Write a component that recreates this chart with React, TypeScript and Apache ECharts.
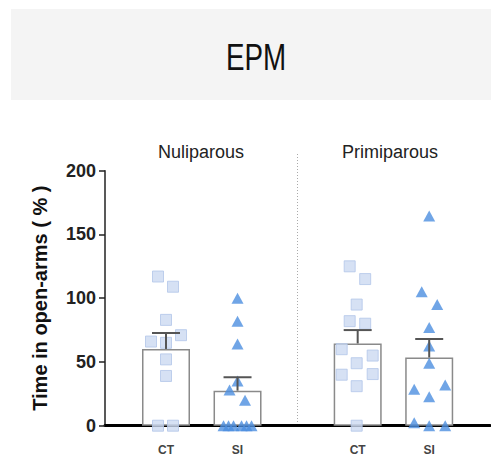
import React, { useEffect, useRef } from "react";
import * as echarts from "echarts";

// ---- data ----
const groups = ["Nuliparous", "Primiparous"];
const categories = ["CT", "SI", "CT", "SI"];
const means = [60.2, 27.5, 64.5, 53.5];
const sems = [12.5, 10.5, 10.5, 14.5];
const yTicks = [0, 50, 100, 150, 200];
// points: [horizontal jitter (px), value]
const nuliCT = [[-8, 117], [7, 109], [0, 83], [15, 71], [-15, 66], [0, 65], [0, 52], [0, 39], [-8, 0], [7, 0]];
const nuliSI = [[0, 100], [0, 82], [0, 64], [0, 35], [-8, 28], [7.5, 20], [-14, 0], [-9, 0], [-4, 0], [4, 0], [9, 0], [14, 0]];
const primiCT = [[-8, 125], [7.5, 115], [-1, 95], [-8, 82], [7.5, 80], [-16, 60], [15, 55], [-1, 49], [-16, 40], [15, 40.5], [-1, 31], [-1, 0]];
const primiSI = [[0, 164.5], [-7.5, 105], [8, 95], [0, 77], [0, 62.5], [0, 49], [-15, 28.5], [16, 32], [0, 22.7], [-15, 2.4], [0, 0], [16, 0]];

// ---- layout ----
const positions = [1, 2, 3.68, 4.68];
const X_MIN = 0.147;
const X_MAX = 5.53;
const GRID_LEFT = 105;
const GRID_RIGHT = 1;
const PX_PER_UNIT = (491 - GRID_LEFT - GRID_RIGHT) / (X_MAX - X_MIN);

export default function App() {
  const ref = useRef<HTMLDivElement>(null);
  useEffect(() => {
    if (!ref.current) return;
    const chart = echarts.init(ref.current, null, { renderer: "svg" });
    const toPts = (arr: number[][], pos: number) => arr.map(([j, v]) => [pos + j / PX_PER_UNIT, v]);
    const squareStyle = { color: "#ccdaf1", borderColor: "#b2c5e8", borderWidth: 1 };
    const triStyle = { color: "#4c8fe0" };
    const font = "Liberation Sans, Arial, sans-serif";
    const option: any = {
      animation: false,
      grid: { left: GRID_LEFT, right: GRID_RIGHT, top: 170.7, bottom: 30.3 },
      xAxis: {
        type: "value",
        min: X_MIN,
        max: X_MAX,
        splitLine: { show: false },
        axisLine: { show: true, onZero: false, lineStyle: { color: "#000", width: 3 } },
        axisTick: { show: false },
        axisLabel: {
          customValues: positions,
          formatter: (v: number) => {
            const i = positions.findIndex((p) => Math.abs(p - v) < 1e-6);
            return i >= 0 ? categories[i] : "";
          },
          margin: 18,
          fontSize: 12,
          fontWeight: "bold",
          color: "#444",
          fontFamily: font,
        },
      },
      yAxis: {
        type: "value",
        min: 0,
        max: 200,
        interval: 50,
        name: "Time in open-arms ( % )",
        nameLocation: "middle",
        nameGap: 55,
        nameTextStyle: { fontSize: 20, fontWeight: "bold", color: "#111", fontFamily: font },
        splitLine: { show: false },
        axisLine: { show: true, lineStyle: { color: "#222", width: 1.5 } },
        axisTick: { show: true, length: 6, lineStyle: { color: "#222", width: 1.5 } },
        axisLabel: {
          formatter: (v: number) => (yTicks.includes(v) ? String(v) : ""),
          fontSize: 18,
          fontWeight: "bold",
          color: "#222",
          margin: 9,
          fontFamily: font,
        },
      },
      graphic: [
        { type: "rect", shape: { x: 11, y: 9, width: 480, height: 91 }, style: { fill: "#f4f4f4" }, silent: true },
        {
          type: "text",
          x: 256,
          y: 57,
          scaleX: 0.75,
          style: { text: "EPM", fontSize: 37, fontFamily: font, fill: "#111", align: "center", verticalAlign: "middle" },
        },
        {
          type: "text",
          x: 201,
          y: 152,
          style: { text: groups[0], fontSize: 18, fontFamily: font, fill: "#222", align: "center", verticalAlign: "middle" },
        },
        {
          type: "text",
          x: 390,
          y: 152,
          style: { text: groups[1], fontSize: 18, fontFamily: font, fill: "#222", align: "center", verticalAlign: "middle" },
        },
        {
          type: "line",
          shape: { x1: 297.5, y1: 154, x2: 297.5, y2: 425 },
          style: { stroke: "#aaa", lineWidth: 1, lineDash: [1, 2] },
        },
      ],
      series: [
        {
          type: "bar",
          barWidth: 48,
          z: 1,
          data: positions.map((p, i) => [p, means[i]]),
          itemStyle: { color: "#fff", borderColor: "#8a8a8a", borderWidth: 1.5 },
        },
        { type: "scatter", z: 3, symbol: "rect", symbolSize: 11, data: toPts(nuliCT, positions[0]), itemStyle: squareStyle },
        { type: "scatter", z: 3, symbol: "triangle", symbolSize: [12, 11], data: toPts(nuliSI, positions[1]), itemStyle: triStyle },
        { type: "scatter", z: 3, symbol: "rect", symbolSize: 11, data: toPts(primiCT, positions[2]), itemStyle: squareStyle },
        { type: "scatter", z: 3, symbol: "triangle", symbolSize: [12, 11], data: toPts(primiSI, positions[3]), itemStyle: triStyle },
        {
          type: "custom",
          z: 4,
          data: positions.map((p, i) => [p, means[i], sems[i]]),
          renderItem: (params: any, api: any) => {
            const x = api.value(0);
            const m = api.value(1);
            const s = api.value(2);
            const p0 = api.coord([x, m]);
            const p1 = api.coord([x, m + s]);
            const style = { stroke: "#555", lineWidth: 2 };
            return {
              type: "group",
              children: [
                { type: "line", shape: { x1: p0[0], y1: p0[1], x2: p1[0], y2: p1[1] }, style },
                { type: "line", shape: { x1: p1[0] - 14, y1: p1[1], x2: p1[0] + 14, y2: p1[1] }, style },
              ],
            };
          },
        },
      ],
    };
    chart.setOption(option);
    return () => chart.dispose();
  }, []);
  return <div ref={ref} style={{ position: "fixed", left: 0, top: 0, width: 491, height: 456, background: "#fff" }} />;
}
